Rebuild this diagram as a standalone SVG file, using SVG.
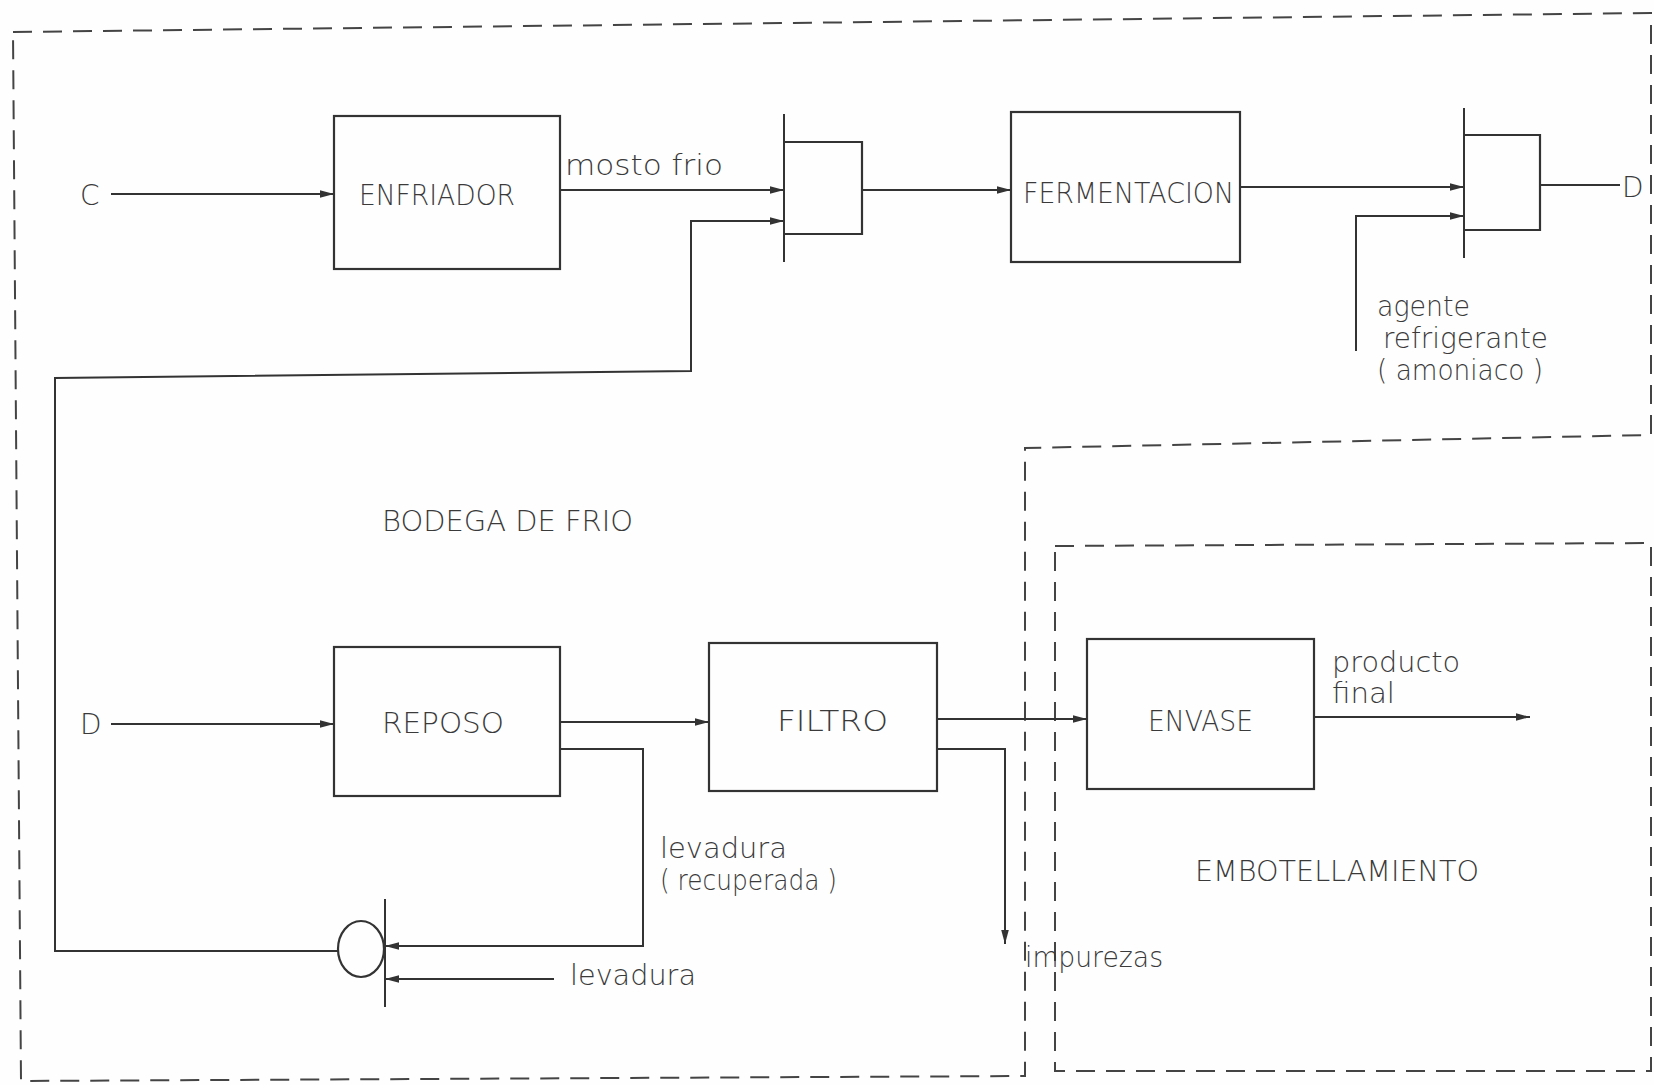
<svg xmlns="http://www.w3.org/2000/svg" width="1654" height="1085" viewBox="0 0 1654 1085">
<style>
.bg{fill:#fefefe}
.box{fill:none;stroke:#333;stroke-width:2.2}
.ln{fill:none;stroke:#333;stroke-width:2}
.dash{fill:none;stroke:#444;stroke-width:2;stroke-dasharray:19 11}
.t{font-family:"DejaVu Sans","Liberation Sans",Arial,sans-serif;font-weight:200;font-size:28px;fill:#3a3a3a}
.s{font-family:"DejaVu Sans","Liberation Sans",Arial,sans-serif;font-weight:200;font-size:28px;fill:#3a3a3a}
</style>
<defs>
<marker id="ar" markerWidth="15" markerHeight="10" refX="14" refY="5" orient="auto" markerUnits="userSpaceOnUse">
<path d="M0,1.2 L14,5 L0,8.8 z" fill="#333"/>
</marker>
</defs>
<rect class="bg" width="1654" height="1085"/>

<g id="zones">
<path id="bodega" class="dash" d="M13,32 L1651,13 L1651,435 L1025,448 L1025,1076 L21,1081 Z"/>
<path id="embotellamiento" class="dash" d="M1055,546 L1651,543 L1651,1071 L1055,1071 Z"/>
<text class="t" x="382" y="531" textLength="251" lengthAdjust="spacingAndGlyphs">BODEGA DE FRIO</text>
<text class="t" x="1195" y="881" textLength="284" lengthAdjust="spacingAndGlyphs">EMBOTELLAMIENTO</text>
</g>

<g id="connectors">
<path class="ln" d="M111,194 L334,194" marker-end="url(#ar)"/>
<path class="ln" d="M560,190 L784,190" marker-end="url(#ar)"/>
<path class="ln" d="M338,951 L55,951 L55,378 L691,371 L691,221 L784,221" marker-end="url(#ar)"/>
<path class="ln" d="M862,190 L1011,190" marker-end="url(#ar)"/>
<path class="ln" d="M1240,187 L1464,187" marker-end="url(#ar)"/>
<path class="ln" d="M1356,351 L1356,216 L1464,216" marker-end="url(#ar)"/>
<path class="ln" d="M1540,185 L1620,185"/>
<path class="ln" d="M111,724 L334,724" marker-end="url(#ar)"/>
<path class="ln" d="M560,722 L709,722" marker-end="url(#ar)"/>
<path class="ln" d="M560,749 L643,749 L643,946 L385,946" marker-end="url(#ar)"/>
<path class="ln" d="M554,979 L385,979" marker-end="url(#ar)"/>
<path class="ln" d="M937,719 L1087,719" marker-end="url(#ar)"/>
<path class="ln" d="M937,749 L1005,749 L1005,944" marker-end="url(#ar)"/>
<path class="ln" d="M1314,717 L1530,717" marker-end="url(#ar)"/>
<text class="s" x="565" y="175" textLength="158" lengthAdjust="spacingAndGlyphs">mosto frio</text>
<text class="s" x="1377" y="316" textLength="93" lengthAdjust="spacingAndGlyphs">agente</text>
<text class="s" x="1383" y="348" textLength="165" lengthAdjust="spacingAndGlyphs">refrigerante</text>
<text class="s" x="1377" y="380" textLength="166" lengthAdjust="spacingAndGlyphs">( amoniaco )</text>
<text class="s" x="660" y="858" textLength="127" lengthAdjust="spacingAndGlyphs">levadura</text>
<text class="s" x="660" y="890" textLength="177" lengthAdjust="spacingAndGlyphs">( recuperada )</text>
<text class="s" x="570" y="985" textLength="126" lengthAdjust="spacingAndGlyphs">levadura</text>
<text class="s" x="1025" y="967" textLength="138" lengthAdjust="spacingAndGlyphs">impurezas</text>
<text class="s" x="1332" y="672" textLength="128" lengthAdjust="spacingAndGlyphs">producto</text>
<text class="s" x="1332" y="703" textLength="63" lengthAdjust="spacingAndGlyphs">final</text>
</g>

<g id="C">
<text class="t" x="80" y="205">C</text>
</g>
<g id="D_out">
<text class="t" x="1622" y="197">D</text>
</g>
<g id="D_in">
<text class="t" x="80" y="734">D</text>
</g>

<g id="enfriador">
<rect class="box" x="334" y="116" width="226" height="153"/>
<text class="t" x="359" y="205" textLength="156" lengthAdjust="spacingAndGlyphs">ENFRIADOR</text>
</g>
<g id="mezclador1">
<path class="ln" d="M784,114 L784,262"/>
<path class="box" d="M784,142 L862,142 L862,234 L784,234"/>
</g>
<g id="fermentacion">
<rect class="box" x="1011" y="112" width="229" height="150"/>
<text class="t" x="1023" y="203" textLength="211" lengthAdjust="spacingAndGlyphs">FERMENTACION</text>
</g>
<g id="mezclador2">
<path class="ln" d="M1464,108 L1464,258"/>
<path class="box" d="M1464,135 L1540,135 L1540,230 L1464,230"/>
</g>
<g id="reposo">
<rect class="box" x="334" y="647" width="226" height="149"/>
<text class="t" x="382" y="733" textLength="122" lengthAdjust="spacingAndGlyphs">REPOSO</text>
</g>
<g id="filtro">
<rect class="box" x="709" y="643" width="228" height="148"/>
<text class="t" x="777" y="731" textLength="111" lengthAdjust="spacingAndGlyphs">FILTRO</text>
</g>
<g id="envase">
<rect class="box" x="1087" y="639" width="227" height="150"/>
<text class="t" x="1148" y="731" textLength="105" lengthAdjust="spacingAndGlyphs">ENVASE</text>
</g>
<g id="bomba">
<ellipse class="box" cx="361" cy="949" rx="23" ry="28"/>
<path class="ln" d="M385,899 L385,1007"/>
</g>
</svg>
